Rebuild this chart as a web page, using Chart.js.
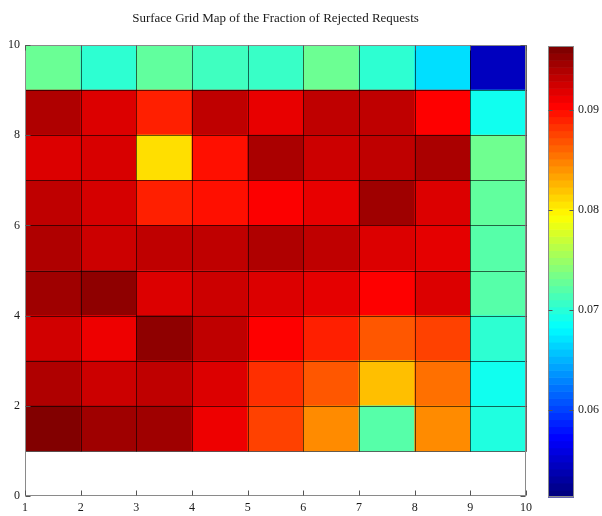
<!DOCTYPE html>
<html>
<head>
<meta charset="utf-8">
<script src="https://cdn.jsdelivr.net/npm/chart.js@4.4.0/dist/chart.umd.min.js"></script>
<style>
    html, body { margin: 0; padding: 0; background: #fff; }
    #wrap { position: relative; width: 602px; height: 516px; }
    #grid-map { position: absolute; left: 0; top: 0; }
    #color-bar { position: absolute; left: 540px; top: 0; }
</style>
</head>
<body>
<div id="wrap">
    <canvas id="grid-map" width="540" height="516"></canvas>
    <canvas id="color-bar" width="62" height="516"></canvas>
</div>
<script>
// cell edges (9 x 9 cells)
const xEdges = [1, 2, 3, 4, 5, 6, 7, 8, 9, 10];
const yEdges = [1, 2, 3, 4, 5, 6, 7, 8, 9, 10];
const xTicks = [1, 2, 3, 4, 5, 6, 7, 8, 9, 10];
const yTicks = [0, 2, 4, 6, 8, 10];
const colorTicks = [0.06, 0.07, 0.08, 0.09];
const colorMin = 0.0513;
const colorMax = 0.0964;

// fraction of rejected requests, one array per row (bottom row first)
const row1 = [0.0963, 0.0950, 0.0950, 0.0915, 0.0879, 0.0846, 0.0720, 0.0846, 0.0696];
const row2 = [0.0943, 0.0930, 0.0936, 0.0923, 0.0887, 0.0869, 0.0823, 0.0858, 0.0689];
const row3 = [0.0928, 0.0915, 0.0957, 0.0936, 0.0908, 0.0894, 0.0869, 0.0879, 0.0702];
const row4 = [0.0950, 0.0957, 0.0923, 0.0930, 0.0923, 0.0919, 0.0908, 0.0923, 0.0720];
const row5 = [0.0943, 0.0930, 0.0936, 0.0936, 0.0943, 0.0936, 0.0923, 0.0919, 0.0720];
const row6 = [0.0936, 0.0926, 0.0894, 0.0901, 0.0909, 0.0918, 0.0950, 0.0923, 0.0725];
const row7 = [0.0923, 0.0925, 0.0809, 0.0901, 0.0945, 0.0930, 0.0936, 0.0945, 0.0731];
const row8 = [0.0943, 0.0923, 0.0894, 0.0936, 0.0918, 0.0936, 0.0936, 0.0908, 0.0689];
const row9 = [0.0729, 0.0702, 0.0725, 0.0710, 0.0707, 0.0730, 0.0702, 0.0668, 0.0541];
const rows = [row1, row2, row3, row4, row5, row6, row7, row8, row9];

const serif = "'Liberation Serif', 'DejaVu Serif', serif";

function clamp01(v) {
    return Math.max(0, Math.min(1, v));
}

function jet(t) {
    t = clamp01(t);
    const r = clamp01(1.5 - Math.abs(4 * t - 3));
    const g = clamp01(1.5 - Math.abs(4 * t - 2));
    const b = clamp01(1.5 - Math.abs(4 * t - 1));
    return "rgb(" + Math.round(r * 255) + "," + Math.round(g * 255) + "," + Math.round(b * 255) + ")";
}

function colorFor(v) {
    return jet((v - colorMin) / (colorMax - colorMin));
}

// one floating-bar dataset per row
const datasets = rows.map((row, j) => ({
    data: row.map((v, i) => ({
        x: (xEdges[i] + xEdges[i + 1]) / 2,
        y: [yEdges[j], yEdges[j + 1]],
    })),
    backgroundColor: row.map(colorFor),
    borderWidth: 0,
    grouped: false,
    barPercentage: 1,
    categoryPercentage: 1,
}));

// cell edges, axis box and inward ticks
const gridLines = {
    id: "gridLines",
    afterDatasetsDraw(chart) {
        const { ctx, chartArea: a, scales } = chart;
        const sx = (v) => Math.round(scales.x.getPixelForValue(v)) + 0.5;
        const sy = (v) => Math.round(scales.y.getPixelForValue(v)) + 0.5;
        ctx.save();
        ctx.lineWidth = 1;
        ctx.strokeStyle = "rgba(0,0,0,0.6)";
        ctx.beginPath();
        xEdges.forEach((x) => {
            ctx.moveTo(sx(x), sy(yEdges[0]));
            ctx.lineTo(sx(x), sy(yEdges[yEdges.length - 1]));
        });
        yEdges.forEach((y) => {
            ctx.moveTo(sx(xEdges[0]), sy(y));
            ctx.lineTo(sx(xEdges[xEdges.length - 1]), sy(y));
        });
        ctx.stroke();

        ctx.strokeStyle = "#8a8a8a";
        const l = Math.round(a.left) + 0.5, r = Math.round(a.right) - 0.5;
        const t = Math.round(a.top) + 0.5, b = Math.round(a.bottom) - 0.5;
        ctx.strokeRect(l, t, r - l, b - t);
        ctx.strokeStyle = "#555";
        ctx.beginPath();
        xTicks.forEach((x) => {
            ctx.moveTo(sx(x), b);
            ctx.lineTo(sx(x), b - 5);
            ctx.moveTo(sx(x), t);
            ctx.lineTo(sx(x), t + 5);
        });
        yTicks.forEach((y) => {
            ctx.moveTo(l, sy(y));
            ctx.lineTo(l + 5, sy(y));
            ctx.moveTo(r, sy(y));
            ctx.lineTo(r - 5, sy(y));
        });
        ctx.stroke();
        ctx.restore();
    },
};

new Chart(document.getElementById("grid-map"), {
    type: "bar",
    data: { datasets },
    options: {
        responsive: false,
        animation: false,
        devicePixelRatio: 1,
        layout: { padding: { left: 0, right: 14, top: 0, bottom: 0 } },
        plugins: {
            legend: { display: false },
            tooltip: { enabled: false },
            title: {
                display: true,
                fullSize: false,
                text: "Surface Grid Map of the Fraction of Rejected Requests",
                color: "#1a1a1a",
                font: { family: serif, size: 13, weight: "normal" },
                padding: { top: 11, bottom: 18.4 },
            },
        },
        scales: {
            x: {
                type: "linear",
                min: 1,
                max: 10,
                offset: false,
                afterBuildTicks: (s) => { s.ticks = xTicks.map((v) => ({ value: v })); },
                afterFit: (s) => { s.height = 20; },
                grid: { display: false, drawTicks: false, offset: false },
                border: { display: false },
                ticks: { color: "#1a1a1a", padding: 5, font: { family: serif, size: 12 }, maxRotation: 0 },
            },
            y: {
                type: "linear",
                min: 0,
                max: 10,
                afterBuildTicks: (s) => { s.ticks = yTicks.map((v) => ({ value: v })); },
                afterFit: (s) => { s.width = 25; },
                grid: { display: false, drawTicks: false },
                border: { display: false },
                ticks: { color: "#1a1a1a", padding: 5, font: { family: serif, size: 12 } },
            },
        },
    },
    plugins: [gridLines],
});

// colour bar: 64 jet bands placed on its own value scale
const colorBand = {
    id: "colorBand",
    beforeDatasetsDraw(chart) {
        const { ctx, chartArea: a, scales } = chart;
        const n = 64;
        ctx.save();
        for (let i = 0; i < n; i++) {
            const lo = colorMin + (colorMax - colorMin) * i / n;
            const hi = colorMin + (colorMax - colorMin) * (i + 1) / n;
            const y0 = scales.y.getPixelForValue(lo);
            const y1 = scales.y.getPixelForValue(hi);
            ctx.fillStyle = jet(i / (n - 1));
            ctx.fillRect(a.left, y1, a.right - a.left, y0 - y1 + 0.6);
        }
        ctx.strokeStyle = "#8a8a8a";
        ctx.lineWidth = 1;
        const l = Math.round(a.left) + 0.5, r = Math.round(a.right) - 0.5;
        const t = Math.round(a.top) + 0.5, b = Math.round(a.bottom) - 0.5;
        ctx.strokeRect(l, t, r - l, b - t);
        ctx.strokeStyle = "#555";
        ctx.beginPath();
        colorTicks.forEach((v) => {
            const y = Math.round(scales.y.getPixelForValue(v)) + 0.5;
            ctx.moveTo(l, y);
            ctx.lineTo(l + 4, y);
            ctx.moveTo(r, y);
            ctx.lineTo(r - 4, y);
        });
        ctx.stroke();
        ctx.restore();
    },
};

new Chart(document.getElementById("color-bar"), {
    type: "scatter",
    data: { datasets: [{ data: [] }] },
    options: {
        responsive: false,
        animation: false,
        devicePixelRatio: 1,
        layout: { padding: { left: 8, right: 0, top: 46, bottom: 19 } },
        plugins: { legend: { display: false }, tooltip: { enabled: false } },
        scales: {
            x: { display: false, min: 0, max: 1 },
            y: {
                type: "linear",
                position: "right",
                min: colorMin,
                max: colorMax,
                afterBuildTicks: (s) => { s.ticks = colorTicks.map((v) => ({ value: v })); },
                afterFit: (s) => { s.width = 28; },
                grid: { display: false, drawTicks: false },
                border: { display: false },
                ticks: {
                    color: "#1a1a1a",
                    padding: 4,
                    font: { family: serif, size: 12 },
                    callback: (v) => v.toFixed(2),
                },
            },
        },
    },
    plugins: [colorBand],
});
</script>
</body>
</html>
